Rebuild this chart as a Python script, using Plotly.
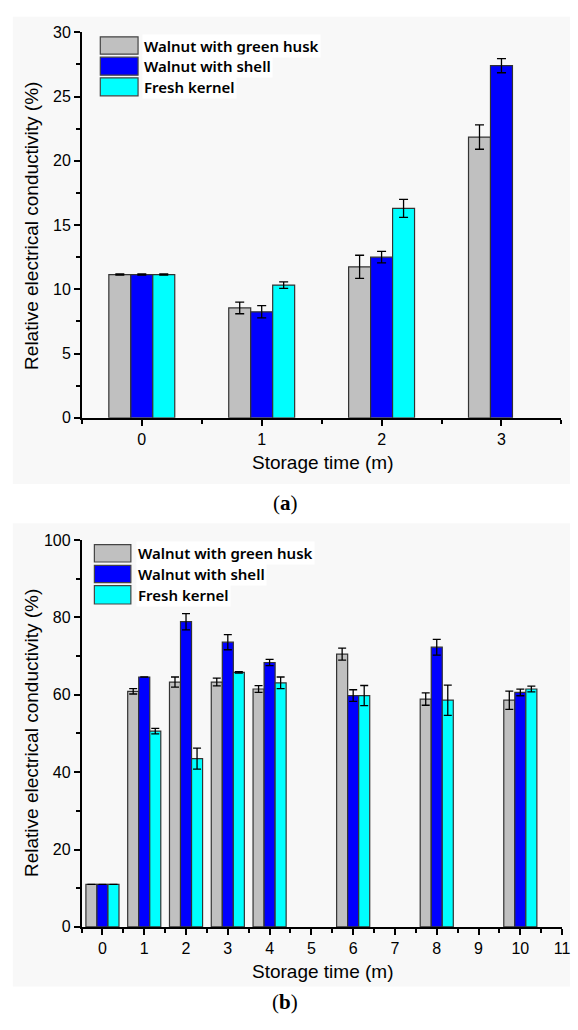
import plotly.graph_objects as go

# ---------------- data ----------------
series_names = ["Walnut with green husk", "Walnut with shell", "Fresh kernel"]
series_colors = ["#c0c0c0", "#0000ff", "#00ffff"]

# panel (a)
a_months = [0, 1, 2, 3]
a_husk = [11.15, 8.55, 11.75, 21.85]
a_husk_err = [0.05, 0.45, 0.9, 0.95]
a_shell = [11.15, 8.25, 12.5, 27.4]
a_shell_err = [0.05, 0.48, 0.45, 0.55]
a_kernel = [11.15, 10.33, 16.3, None]
a_kernel_err = [0.05, 0.25, 0.7, None]

# panel (b)
b_months = [0, 1, 2, 3, 4, 6, 8, 10]
b_husk = [11.0, 60.9, 63.3, 63.3, 61.5, 70.5, 58.9, 58.6]
b_husk_err = [0.0, 0.7, 1.3, 1.0, 0.85, 1.55, 1.6, 2.35]
b_shell = [11.0, 64.6, 78.9, 73.6, 68.35, 59.8, 72.3, 60.6]
b_shell_err = [0.0, 0.0, 2.1, 1.95, 0.8, 1.5, 2.05, 0.85]
b_kernel = [11.0, 50.6, 43.5, 65.8, 63.1, 59.8, 58.6, 61.5]
b_kernel_err = [0.0, 0.7, 2.7, 0.2, 1.5, 2.6, 3.9, 0.75]

y_title = "Relative electrical conductivity (%)"
x_title = "Storage time (m)"

# ---------------- layout helpers ----------------
W, H = 578, 1030


def px(x):
    return x / W


def py(y):
    return 1 - y / H


fig = go.Figure()

panels = [
    dict(x=a_months, ys=[a_husk, a_shell, a_kernel],
         errs=[a_husk_err, a_shell_err, a_kernel_err],
         xa="x", ya="y", w=0.1833, cap=4.5),
    dict(x=b_months, ys=[b_husk, b_shell, b_kernel],
         errs=[b_husk_err, b_shell_err, b_kernel_err],
         xa="x2", ya="y2", w=0.264, cap=4),
]

for p in panels:
    for i, (name, col, yv, ev) in enumerate(zip(series_names, series_colors, p["ys"], p["errs"])):
        fig.add_trace(go.Bar(
            x=p["x"], y=yv, name=name,
            width=p["w"], offset=-1.5 * p["w"] + i * p["w"],
            marker=dict(color=col, line=dict(color="#333333", width=1.2)),
            error_y=dict(type="data", array=ev, color="black", thickness=1.3, width=p["cap"]),
            xaxis=p["xa"], yaxis=p["ya"], showlegend=False,
        ))

SANS = "Liberation Sans"
tickfont = dict(family=SANS, size=16, color="black")
axcommon = dict(showline=True, linecolor="black", linewidth=1.5, ticks="outside",
                ticklen=6, tickwidth=1.5, tickcolor="black", showgrid=False,
                zeroline=False, tickfont=tickfont, mirror=False, ticklabeloverflow="allow")

fig.update_layout(
    width=W, height=H, margin=dict(l=0, r=0, t=0, b=0),
    paper_bgcolor="white", plot_bgcolor="rgba(0,0,0,0)",
    barmode="overlay", showlegend=False,
    xaxis=dict(domain=[px(83), px(569.3)], range=[-0.5, 3.5], dtick=1, tick0=0,
               anchor="y", minor=dict(dtick=0.5, ticklen=4, tickwidth=1.5, tickcolor="black",
                                      ticks="outside", showgrid=False), **axcommon),
    yaxis=dict(domain=[py(416.7), py(24.7)], range=[0, 30], dtick=5, anchor="x",
               minor=dict(dtick=2.5, ticklen=4, tickwidth=1.5, tickcolor="black",
                          ticks="outside", showgrid=False), **axcommon),
    xaxis2=dict(domain=[px(82.7), px(570)], range=[-0.5, 11], dtick=1, tick0=0,
                anchor="y2", minor=dict(dtick=0.5, ticklen=4, tickwidth=1.5, tickcolor="black",
                                        ticks="outside", showgrid=False), **axcommon),
    yaxis2=dict(domain=[py(934.3), py(541)], range=[0, 100], dtick=20, anchor="x2",
                minor=dict(dtick=10, ticklen=4, tickwidth=1.5, tickcolor="black",
                           ticks="outside", showgrid=False), **axcommon),
)

shapes = []
annotations = []
# panel backgrounds
for (x0, y0, x1, y1) in [(13, 9, 578, 484), (13, 524, 578, 995)]:
    shapes.append(dict(type="rect", xref="paper", yref="paper", x0=px(x0), x1=px(x1),
                       y0=py(y1), y1=py(y0), fillcolor="#f8f8f8", line=dict(width=0), layer="below"))

titlefont = dict(family=SANS, size=19, color="black")
# axis titles
for (cx, cy) in [(32, 222), (32, 737.6)]:
    annotations.append(dict(text=y_title, xref="paper", yref="paper", x=px(cx), y=py(cy),
                            textangle=-90, showarrow=False, font=titlefont,
                            xanchor="center", yanchor="middle"))
for (cx, cy) in [(327, 462), (327, 980)]:
    annotations.append(dict(text=x_title, xref="paper", yref="paper", x=px(cx), y=py(cy),
                            showarrow=False, font=titlefont, xanchor="center", yanchor="middle"))

# custom legends
legfont = dict(family="Noto Sans", size=15, color="black", weight=600)
for (sx0, sx1, tx, rows) in [
    (101.7, 140, 144, [(29.3, 47), (50, 68.3), (71, 89.3)]),
    (95.7, 132.7, 138, [(545.7, 563.3), (566.7, 584.3), (587.3, 606)]),
]:
    for name, col, (r0, r1) in zip(series_names, series_colors, rows):
        shapes.append(dict(type="rect", xref="paper", yref="paper", x0=px(sx0), x1=px(sx1),
                           y0=py(r1), y1=py(r0), fillcolor=col,
                           line=dict(color="#444444", width=1.2)))
        annotations.append(dict(text=name, xref="paper", yref="paper", x=px(tx),
                                y=py((r0 + r1) / 2), showarrow=False, font=legfont,
                                xanchor="left", yanchor="middle", bgcolor="white", borderpad=1))

# panel captions
capfont = dict(family="Liberation Serif", size=21, color="black")
for (lbl, cy) in [("(<b>a</b>)", 503), ("(<b>b</b>)", 1011)]:
    annotations.append(dict(text=lbl, xref="paper", yref="paper", x=px(289), y=py(cy),
                            showarrow=False, font=capfont, xanchor="center", yanchor="middle"))

fig.update_layout(shapes=shapes, annotations=annotations)
fig.write_html("out.html")
